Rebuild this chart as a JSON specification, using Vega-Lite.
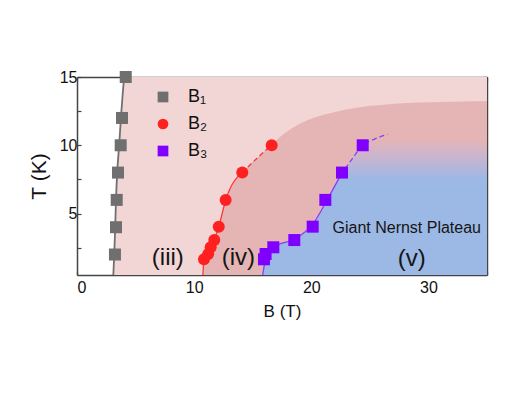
{
  "$schema": "https://vega.github.io/schema/vega-lite/v6.json",
  "width": 410,
  "height": 198,
  "autosize": {"type": "none"},
  "padding": {"left": 77, "top": 77, "right": 36, "bottom": 118},
  "background": "white",
  "config": {
    "font": "Liberation Sans",
    "view": {"stroke": null},
    "axis": {
      "domain": true,
      "domainColor": "#444444",
      "domainWidth": 1.5,
      "zindex": 1,
      "grid": false,
      "ticks": true,
      "tickSize": -4,
      "tickColor": "#444444",
      "tickWidth": 1.2,
      "labelFont": "Liberation Sans",
      "labelFontSize": 16,
      "labelColor": "#111111",
      "titleFont": "Liberation Sans",
      "titleFontWeight": "normal",
      "titleColor": "#111111"
    }
  },
  "datasets": {
    "lineB1": [
      {"B": 3.1, "T": 0.5}, {"B": 3.18, "T": 2}, {"B": 3.26, "T": 4}, {"B": 3.33, "T": 6},
      {"B": 3.43, "T": 8}, {"B": 3.6, "T": 10}, {"B": 3.75, "T": 12}, {"B": 4.02, "T": 15}
    ],
    "regionIV": [
      {"B": 10.75, "T": 0.5}, {"B": 10.84, "T": 1.65}, {"B": 11.2, "T": 2.04}, {"B": 11.4, "T": 2.5},
      {"B": 11.7, "T": 3.05}, {"B": 12.1, "T": 4.04}, {"B": 12.7, "T": 6}, {"B": 14.1, "T": 8},
      {"B": 15.3, "T": 9}, {"B": 16.6, "T": 10}, {"B": 17.6, "T": 10.8}, {"B": 18.75, "T": 11.45},
      {"B": 20.0, "T": 11.95}, {"B": 21.6, "T": 12.35}, {"B": 23.5, "T": 12.7}, {"B": 25.9, "T": 12.95},
      {"B": 30.0, "T": 13.15}, {"B": 35, "T": 13.25}
    ],
    "regionV": [
      {"B": 15.85, "T": 0.5}, {"B": 16.1, "T": 1.65}, {"B": 16.35, "T": 2.04}, {"B": 16.9, "T": 2.6},
      {"B": 18.5, "T": 3.1}, {"B": 20.2, "T": 4.3}, {"B": 21.35, "T": 6}, {"B": 22.5, "T": 7.8},
      {"B": 23.4, "T": 8.9}, {"B": 24.4, "T": 10}, {"B": 25.5, "T": 10.5}
    ],
    "lineB2solid": [
      {"B": 10.75, "T": 0.5}, {"B": 10.84, "T": 1.65}, {"B": 11.2, "T": 2.04}, {"B": 11.4, "T": 2.5},
      {"B": 11.7, "T": 3.05}, {"B": 12.1, "T": 4.04}, {"B": 12.7, "T": 6}, {"B": 14.1, "T": 8}
    ],
    "lineB2dash": [
      {"B": 14.1, "T": 8}, {"B": 15.3, "T": 9}, {"B": 16.6, "T": 10}
    ],
    "lineB3solid": [
      {"B": 15.85, "T": 0.5}, {"B": 16.1, "T": 1.65}, {"B": 16.35, "T": 2.04}, {"B": 16.9, "T": 2.6},
      {"B": 18.5, "T": 3.1}, {"B": 20.2, "T": 4.3}, {"B": 21.35, "T": 6}, {"B": 22.5, "T": 7.8}
    ],
    "lineB3dash": [
      {"B": 22.5, "T": 7.8}, {"B": 23.4, "T": 8.9}, {"B": 24.4, "T": 10}, {"B": 25.4, "T": 10.45}, {"B": 26.5, "T": 10.8}
    ],
    "points": [
      {"series": "B₁", "B": 3.24, "T": 2}, {"series": "B₁", "B": 3.33, "T": 4}, {"series": "B₁", "B": 3.39, "T": 6},
      {"series": "B₁", "B": 3.5, "T": 8}, {"series": "B₁", "B": 3.73, "T": 10}, {"series": "B₁", "B": 3.84, "T": 12},
      {"series": "B₁", "B": 4.16, "T": 15},
      {"series": "B₂", "B": 10.84, "T": 1.65}, {"series": "B₂", "B": 11.2, "T": 2.04}, {"series": "B₂", "B": 11.41, "T": 2.53},
      {"series": "B₂", "B": 11.72, "T": 3.06}, {"series": "B₂", "B": 12.1, "T": 4.04}, {"series": "B₂", "B": 12.69, "T": 6},
      {"series": "B₂", "B": 14.11, "T": 8}, {"series": "B₂", "B": 16.62, "T": 10},
      {"series": "B₃", "B": 15.96, "T": 1.65}, {"series": "B₃", "B": 16.1, "T": 2.04}, {"series": "B₃", "B": 16.76, "T": 2.53},
      {"series": "B₃", "B": 18.55, "T": 3.06}, {"series": "B₃", "B": 20.12, "T": 4.04}, {"series": "B₃", "B": 21.2, "T": 6},
      {"series": "B₃", "B": 22.62, "T": 8}, {"series": "B₃", "B": 24.39, "T": 10}
    ],
    "regionLabels": [
      {"B": 7.75, "T": 1.74, "label": "(iii)"},
      {"B": 13.77, "T": 1.74, "label": "(iv)"},
      {"B": 28.57, "T": 1.67, "label": "(v)"}
    ],
    "plateau": [
      {"B": 28.15, "T": 3.94, "label": "Giant Nernst Plateau"}
    ]
  },
  "layer": [
    {
      "data": {"name": "lineB1"},
      "mark": {"type": "area", "orient": "horizontal", "interpolate": "monotone", "color": "#f2d6d6"},
      "encoding": {
        "y": {"field": "T", "type": "quantitative", "scale": {"domain": [0.5, 15], "nice": false, "zero": false},
              "axis": {"orient": "left", "title": "T (K)", "titleFontSize": 21, "titlePadding": 10,
                       "values": [2.5, 5, 7.5, 10, 12.5, 15],
                       "labelExpr": "datum.value % 5 === 0 ? datum.label : ''", "labelPadding": 4}},
        "x": {"field": "B", "type": "quantitative", "scale": {"domain": [0, 35], "nice": false, "zero": false},
              "axis": {"orient": "bottom", "title": "B (T)", "titleFontSize": 17, "titlePadding": 8,
                       "values": [0, 5, 10, 15, 20, 25, 30, 35],
                       "labelExpr": "datum.value % 10 === 0 ? datum.label : ''", "labelPadding": 8}},
        "x2": {"datum": 35}
      }
    },
    {
      "data": {"name": "regionIV"},
      "mark": {"type": "area", "orient": "horizontal", "interpolate": "monotone", "color": "#e5b5b5"},
      "encoding": {
        "y": {"field": "T", "type": "quantitative", "scale": {"domain": [0.5, 15], "nice": false, "zero": false}, "axis": null},
        "x": {"field": "B", "type": "quantitative", "scale": {"domain": [0, 35], "nice": false, "zero": false},
              "axis": {"orient": "top", "title": null, "labels": false, "values": [0, 5, 10, 15, 20, 25, 30, 35]}},
        "x2": {"datum": 35}
      }
    },
    {
      "data": {"name": "regionV"},
      "mark": {
        "type": "area", "orient": "horizontal", "interpolate": "monotone",
        "color": {
          "gradient": "linear", "x1": 0, "y1": 0, "x2": 0, "y2": 1,
          "stops": [
            {"offset": 0, "color": "#e5b5b5"},
            {"offset": 0.12, "color": "#cdb4cc"},
            {"offset": 0.3, "color": "#9cb8e5"},
            {"offset": 1, "color": "#9cb8e5"}
          ]
        }
      },
      "encoding": {
        "y": {"field": "T", "type": "quantitative", "scale": {"domain": [0.5, 15], "nice": false, "zero": false},
              "axis": {"orient": "right", "title": null, "labels": false, "values": [2.5, 5, 7.5, 10, 12.5, 15]}},
        "x": {"field": "B", "type": "quantitative", "scale": {"domain": [0, 35], "nice": false, "zero": false}, "axis": null},
        "x2": {"datum": 35}
      }
    },
    {
      "data": {"name": "lineB1"},
      "mark": {"type": "line", "interpolate": "monotone", "color": "#707070", "strokeWidth": 1.8},
      "encoding": {
        "x": {"field": "B", "type": "quantitative", "axis": null},
        "y": {"field": "T", "type": "quantitative", "axis": null}
      }
    },
    {
      "data": {"name": "lineB2solid"},
      "mark": {"type": "line", "interpolate": "monotone", "color": "#ff3535", "strokeWidth": 1.3},
      "encoding": {
        "x": {"field": "B", "type": "quantitative", "axis": null},
        "y": {"field": "T", "type": "quantitative", "axis": null}
      }
    },
    {
      "data": {"name": "lineB2dash"},
      "mark": {"type": "line", "interpolate": "monotone", "color": "#ff3535", "strokeWidth": 1.3, "strokeDash": [5, 3]},
      "encoding": {
        "x": {"field": "B", "type": "quantitative", "axis": null},
        "y": {"field": "T", "type": "quantitative", "axis": null}
      }
    },
    {
      "data": {"name": "lineB3solid"},
      "mark": {"type": "line", "interpolate": "monotone", "color": "#8a3cff", "strokeWidth": 1.3},
      "encoding": {
        "x": {"field": "B", "type": "quantitative", "axis": null},
        "y": {"field": "T", "type": "quantitative", "axis": null}
      }
    },
    {
      "data": {"name": "lineB3dash"},
      "mark": {"type": "line", "interpolate": "monotone", "color": "#8a3cff", "strokeWidth": 1.3, "strokeDash": [5, 3]},
      "encoding": {
        "x": {"field": "B", "type": "quantitative", "axis": null},
        "y": {"field": "T", "type": "quantitative", "axis": null}
      }
    },
    {
      "data": {"name": "points"},
      "mark": {"type": "point", "filled": true, "opacity": 1, "size": 144, "strokeWidth": 0},
      "encoding": {
        "x": {"field": "B", "type": "quantitative", "axis": null},
        "y": {"field": "T", "type": "quantitative", "axis": null},
        "color": {
          "field": "series", "type": "nominal",
          "scale": {"domain": ["B₁", "B₂", "B₃"], "range": ["#6f6f6f", "#ff2020", "#7f00ff"]},
          "legend": {"orient": "none", "legendX": 77, "legendY": 11, "title": null, "padding": 0,
                     "labelFontSize": 18, "labelColor": "#111111", "labelFont": "Liberation Sans",
                     "symbolSize": 115, "rowPadding": 9, "labelOffset": 16, "symbolStrokeWidth": 0}
        },
        "shape": {
          "field": "series", "type": "nominal",
          "scale": {"domain": ["B₁", "B₂", "B₃"], "range": ["square", "circle", "square"]},
          "legend": {"orient": "none", "legendX": 77, "legendY": 11, "title": null, "padding": 0,
                     "labelFontSize": 18, "labelColor": "#111111", "labelFont": "Liberation Sans",
                     "symbolSize": 115, "rowPadding": 9, "labelOffset": 16, "symbolStrokeWidth": 0}
        }
      }
    },
    {
      "data": {"name": "regionLabels"},
      "mark": {"type": "text", "fontSize": 24, "color": "#151515", "baseline": "middle", "align": "center", "font": "Liberation Sans"},
      "encoding": {
        "x": {"field": "B", "type": "quantitative", "axis": null},
        "y": {"field": "T", "type": "quantitative", "axis": null},
        "text": {"field": "label"}
      }
    },
    {
      "data": {"name": "plateau"},
      "mark": {"type": "text", "fontSize": 16, "color": "#151515", "baseline": "middle", "align": "center", "font": "Liberation Sans"},
      "encoding": {
        "x": {"field": "B", "type": "quantitative", "axis": null},
        "y": {"field": "T", "type": "quantitative", "axis": null},
        "text": {"field": "label"}
      }
    }
  ],
  "resolve": {"axis": {"x": "independent", "y": "independent"}}
}
